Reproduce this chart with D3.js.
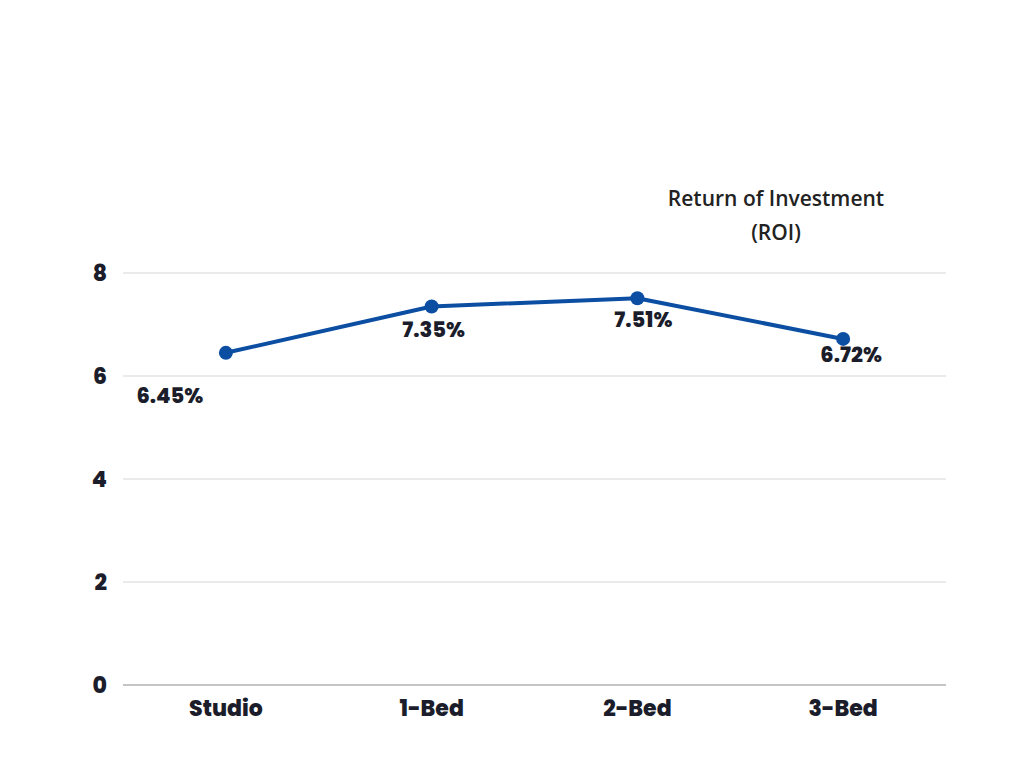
<!DOCTYPE html>
<html>
<head>
<meta charset="utf-8">
<script src="https://cdn.jsdelivr.net/npm/d3@7"></script>
<style>
	body { margin: 0; background: #fff; }
	svg { display: block; }
</style>
</head>
<body>
<svg width="1024" height="768"></svg>
<script>
(function(){
	'use strict';

	const categories = ['Studio', '1-Bed', '2-Bed', '3-Bed'];
	const roi = [6.45, 7.35, 7.51, 6.72];
	const yTicks = [0, 2, 4, 6, 8];
	const titleLines = ['Return of Investment', '(ROI)'];

	// label nudges relative to each point (layout only)
	const labelDx = [-56, 2, 6, 8];
	const labelDy = [50, 31, 29, 23];

	const svg = d3.select('svg');
	const left = 123, right = 946, top = 273, bottom = 685;
	const ink = '#1b1d2b';
	const blue = '#0b4ea2';
	const tickFont = 'Poppins, Inter, "DejaVu Sans", sans-serif';

	const x = d3.scaleBand()
		.domain(categories)
		.range([left, right]);

	const y = d3.scaleLinear()
		.domain([0, 8])
		.range([bottom, top]);

	const grid = svg.append('g');
	grid.selectAll('line')
		.data(yTicks)
		.join('line')
			.attr('x1', left)
			.attr('x2', right)
			.attr('y1', d => y(d))
			.attr('y2', d => y(d))
			.attr('stroke', d => d === 0 ? '#8c8c8c' : '#d6d6d6')
			.attr('stroke-width', 1.2);

	const yAxis = svg.append('g')
		.attr('transform', `translate(${left - 16}, 0)`)
		.call(d3.axisLeft(y).tickValues(yTicks).tickSize(0).tickPadding(0));
	yAxis.select('.domain').remove();
	yAxis.selectAll('text')
		.attr('font-family', tickFont)
		.attr('font-weight', 800)
		.attr('font-size', 22)
		.attr('fill', ink)
		.attr('dy', '0.36em');

	const xAxis = svg.append('g')
		.attr('transform', `translate(0, ${bottom})`)
		.call(d3.axisBottom(x).tickSize(0).tickPadding(15));
	xAxis.select('.domain').remove();
	xAxis.selectAll('text')
		.attr('font-family', tickFont)
		.attr('font-weight', 800)
		.attr('font-size', 22)
		.attr('fill', ink);

	const cx = (d, i) => x(categories[i]) + x.bandwidth() / 2;

	const line = d3.line()
		.x((d, i) => cx(d, i))
		.y(d => y(d));

	svg.append('path')
		.datum(roi)
		.attr('d', line)
		.attr('fill', 'none')
		.attr('stroke', blue)
		.attr('stroke-width', 4)
		.attr('stroke-linejoin', 'round');

	svg.append('g')
		.selectAll('circle')
		.data(roi)
		.join('circle')
			.attr('cx', cx)
			.attr('cy', d => y(d))
			.attr('r', 7)
			.attr('fill', blue);

	svg.append('g')
		.selectAll('text')
		.data(roi)
		.join('text')
			.attr('x', (d, i) => cx(d, i) + labelDx[i])
			.attr('y', (d, i) => y(d) + labelDy[i])
			.attr('text-anchor', 'middle')
			.attr('font-family', tickFont)
			.attr('font-weight', 800)
			.attr('font-size', 21)
			.attr('fill', ink)
			.text(d => d.toFixed(2) + '%');

	svg.append('text')
		.attr('x', 776)
		.attr('y', 206)
		.attr('text-anchor', 'middle')
		.attr('font-family', '"Open Sans", sans-serif')
		.attr('font-weight', 600)
		.attr('font-size', 21)
		.attr('fill', '#222')
		.selectAll('tspan')
		.data(titleLines)
		.join('tspan')
			.attr('x', 776)
			.attr('dy', (d, i) => i === 0 ? 0 : 34)
			.text(d => d);
})();
</script>
</body>
</html>
